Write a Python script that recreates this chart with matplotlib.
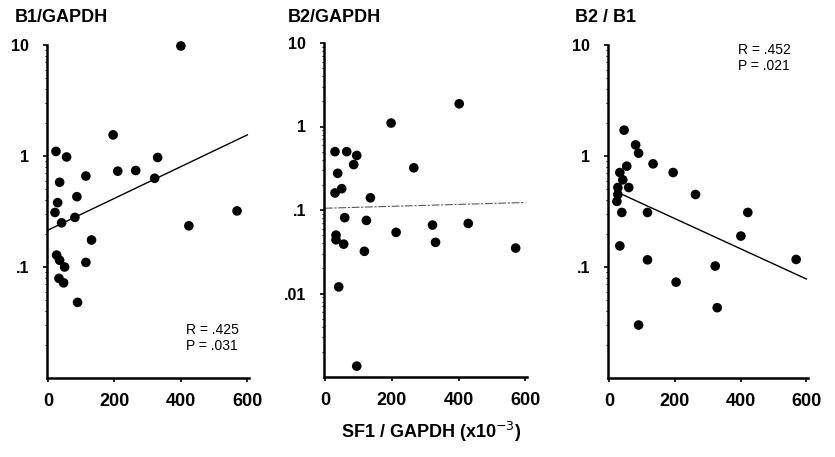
import matplotlib
matplotlib.use('Agg')
import matplotlib.pyplot as plt
import matplotlib.ticker as ticker
import matplotlib.transforms as mtransforms

plt.rcParams['font.family'] = ['Liberation Sans', 'DejaVu Sans']

# panel 1: B1/GAPDH vs SF1/GAPDH
x1 = [400, 196, 24, 56, 330, 210, 264, 321, 114, 35, 87, 29, 569, 21, 81,
      41, 424, 131, 26, 35, 50, 114, 33, 47, 89]
y1 = [9.8, 1.55, 1.1, 0.98, 0.97, 0.73, 0.74, 0.63, 0.66, 0.58, 0.43, 0.38,
      0.32, 0.31, 0.28, 0.25, 0.235, 0.175, 0.128, 0.115, 0.10, 0.11, 0.079,
      0.072, 0.048]
fit1_x = [0, 600]
fit1_y = [0.215, 1.55]

# panel 2: B2/GAPDH
x2 = [402, 198, 266, 30, 65, 95, 86, 38, 50, 30, 136, 59, 124, 33, 33, 56,
      118, 213, 322, 331, 429, 571, 41, 95]
y2 = [1.87, 1.1, 0.32, 0.50, 0.50, 0.45, 0.35, 0.275, 0.18, 0.16, 0.14,
      0.081, 0.075, 0.050, 0.044, 0.039, 0.032, 0.054, 0.066, 0.041, 0.069,
      0.035, 0.012, 0.00135]
fit2_x = [0, 600]
fit2_y = [0.105, 0.123]

# panel 3: B2 / B1
x3 = [46, 81, 90, 134, 195, 54, 33, 42, 60, 27, 27, 24, 263, 39, 117, 422,
      401, 33, 117, 323, 569, 204, 329, 90]
y3 = [1.71, 1.26, 1.06, 0.85, 0.71, 0.81, 0.71, 0.61, 0.52, 0.52, 0.45,
      0.39, 0.45, 0.31, 0.31, 0.31, 0.19, 0.155, 0.116, 0.102, 0.117, 0.073,
      0.043, 0.030]
fit3_x = [20, 600]
fit3_y = [0.48, 0.078]

titles = ['B1/GAPDH', 'B2/GAPDH', 'B2 / B1']
xticks = [0, 200, 400, 600]
yticks = [[0.1, 1, 10], [0.01, 0.1, 1, 10], [0.1, 1, 10]]
ylabels = [['.1', '1', '10'], ['.01', '.1', '1', '10'], ['.1', '1', '10']]
ylims = [(0.01, 10), (0.001, 10), (0.01, 10)]
stats = ['R = .425\nP = .031', None, 'R = .452\nP = .021']

fig = plt.figure(figsize=(8.35, 4.57), dpi=100)
W, H = 835, 457
boxes = [(47, 45, 249, 378), (324, 43, 527, 377), (608, 45, 808, 378)]
title_x = [15, 288, 575]

data = [(x1, y1, fit1_x, fit1_y), (x2, y2, fit2_x, fit2_y),
        (x3, y3, fit3_x, fit3_y)]

shift = mtransforms.ScaledTranslation(7 / 100, 0, fig.dpi_scale_trans)

for i, (xs, ys, fx, fy) in enumerate(data):
    l, t, r, b = boxes[i]
    ax = fig.add_axes([l / W, 1 - b / H, (r - l) / W, (b - t) / H])
    ax.set_yscale('log')
    ax.scatter(xs, ys, s=48, c='black', edgecolors='none', zorder=3,
               clip_on=False)
    if i == 1:
        ax.plot(fx, fy, color='0.35', lw=0.8, ls=(0, (7, 1.5, 2, 1.5)))
    else:
        ax.plot(fx, fy, color='black', lw=1.0)
    ax.set_xlim(-3, 605)
    ax.set_ylim(*ylims[i])
    ax.set_xticks(xticks)
    ax.set_xticklabels([str(v) for v in xticks], fontsize=13,
                       fontweight='bold')
    for lab in ax.get_xticklabels():
        lab.set_transform(lab.get_transform() + shift)
    ax.set_yticks(yticks[i])
    ax.set_yticklabels(ylabels[i], fontsize=11.5, fontweight='bold')
    ax.yaxis.set_minor_formatter(ticker.NullFormatter())
    for s in ['top', 'right']:
        ax.spines[s].set_visible(False)
    for s in ['left', 'bottom']:
        ax.spines[s].set_linewidth(1.8)
    ax.tick_params(axis='x', length=3, width=1.2, pad=8)
    ax.tick_params(axis='y', which='major', length=3, width=1.2, pad=10)
    ax.tick_params(axis='y', which='minor', length=1.5, width=0.8)
    fig.text(title_x[i] / W, 1 - 17 / H, titles[i], fontsize=13,
             fontweight='bold', ha='left', va='center')

fig.text(186 / W, 1 - 338 / H, stats[0], fontsize=10, ha='left',
         va='center', linespacing=1.1)
fig.text(738 / W, 1 - 58 / H, stats[2], fontsize=10, ha='left',
         va='center', linespacing=1.1)

fig.text(431 / W, 1 - 432 / H, 'SF1 / GAPDH (x10$^{-3}$)', fontsize=13,
         fontweight='bold', ha='center', va='center')

fig.savefig('out.png', dpi=100)
